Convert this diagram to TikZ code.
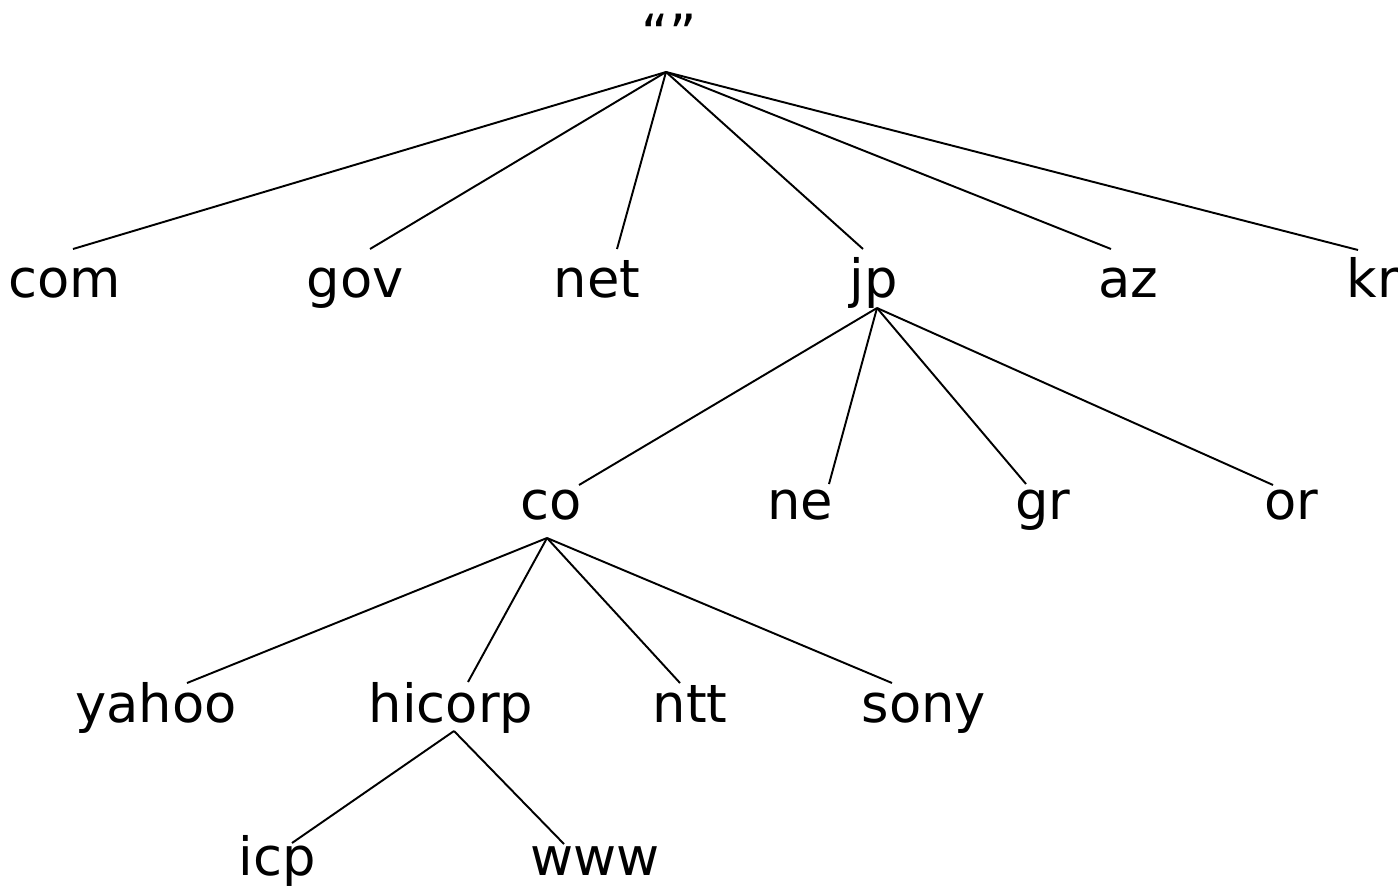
\documentclass[tikz,border=0pt]{standalone}
\usepackage{fontspec}
\setmainfont{DejaVu Sans}
\usepackage{tikz}
\tikzstyle{dom} = [anchor=base, inner sep=0pt, font=\fontsize{30}{36}\selectfont]
\tikzstyle{edge} = [line width=1.1pt]

\begin{document}
\begin{tikzpicture}[x=0.02cm, y=-0.02cm]
	  \useasboundingbox (0,0) rectangle (1398,889);

	  \node (q) at (669,52) [dom] {“”};
	  \node (com) at (65,297) [dom] {com};
	  \node (gov) at (355,297) [dom] {gov};
	  \node (net) at (597,297) [dom] {net};
	  \node (jp) at (874,297) [dom] {jp};
	  \node (az) at (1128,297) [dom] {az};
	  \node (kr) at (1373,297) [dom] {kr};
	  \node (co) at (551,519) [dom] {co};
	  \node (ne) at (800,519) [dom] {ne};
	  \node (gr) at (1043,519) [dom] {gr};
	  \node (or) at (1291,519) [dom] {or};
	  \node (yahoo) at (156,722) [dom] {yahoo};
	  \node (hicorp) at (451,722) [dom] {hicorp};
	  \node (ntt) at (690,722) [dom] {ntt};
	  \node (sony) at (924,722) [dom] {sony};
	  \node (icp) at (277,875) [dom] {icp};
	  \node (www) at (595,875) [dom] {www};

	  % branch points below the parents
	  \coordinate (q-b) at (666,72);
	  \coordinate (jp-b) at (877,308);
	  \coordinate (co-b) at (547,538);
	  \coordinate (hicorp-b) at (454,731);

	  % line ends above the children
	  \coordinate (com-t) at (73,249);
	  \coordinate (gov-t) at (370,249);
	  \coordinate (net-t) at (617,249);
	  \coordinate (jp-t) at (863,249);
	  \coordinate (az-t) at (1111,249);
	  \coordinate (kr-t) at (1358,250);
	  \coordinate (co-t) at (579,485);
	  \coordinate (ne-t) at (829,484);
	  \coordinate (gr-t) at (1026,484);
	  \coordinate (or-t) at (1273,485);
	  \coordinate (yahoo-t) at (187,683);
	  \coordinate (hicorp-t) at (468,682);
	  \coordinate (ntt-t) at (680,683);
	  \coordinate (sony-t) at (892,683);
	  \coordinate (icp-t) at (292,843);
	  \coordinate (www-t) at (564,844);

	  \draw [edge] (q-b) -- (com-t);
	  \draw [edge] (q-b) -- (gov-t);
	  \draw [edge] (q-b) -- (net-t);
	  \draw [edge] (q-b) -- (jp-t);
	  \draw [edge] (q-b) -- (az-t);
	  \draw [edge] (q-b) -- (kr-t);
	  \draw [edge] (jp-b) -- (co-t);
	  \draw [edge] (jp-b) -- (ne-t);
	  \draw [edge] (jp-b) -- (gr-t);
	  \draw [edge] (jp-b) -- (or-t);
	  \draw [edge] (co-b) -- (yahoo-t);
	  \draw [edge] (co-b) -- (hicorp-t);
	  \draw [edge] (co-b) -- (ntt-t);
	  \draw [edge] (co-b) -- (sony-t);
	  \draw [edge] (hicorp-b) -- (icp-t);
	  \draw [edge] (hicorp-b) -- (www-t);
	\end{tikzpicture}
\end{document}
